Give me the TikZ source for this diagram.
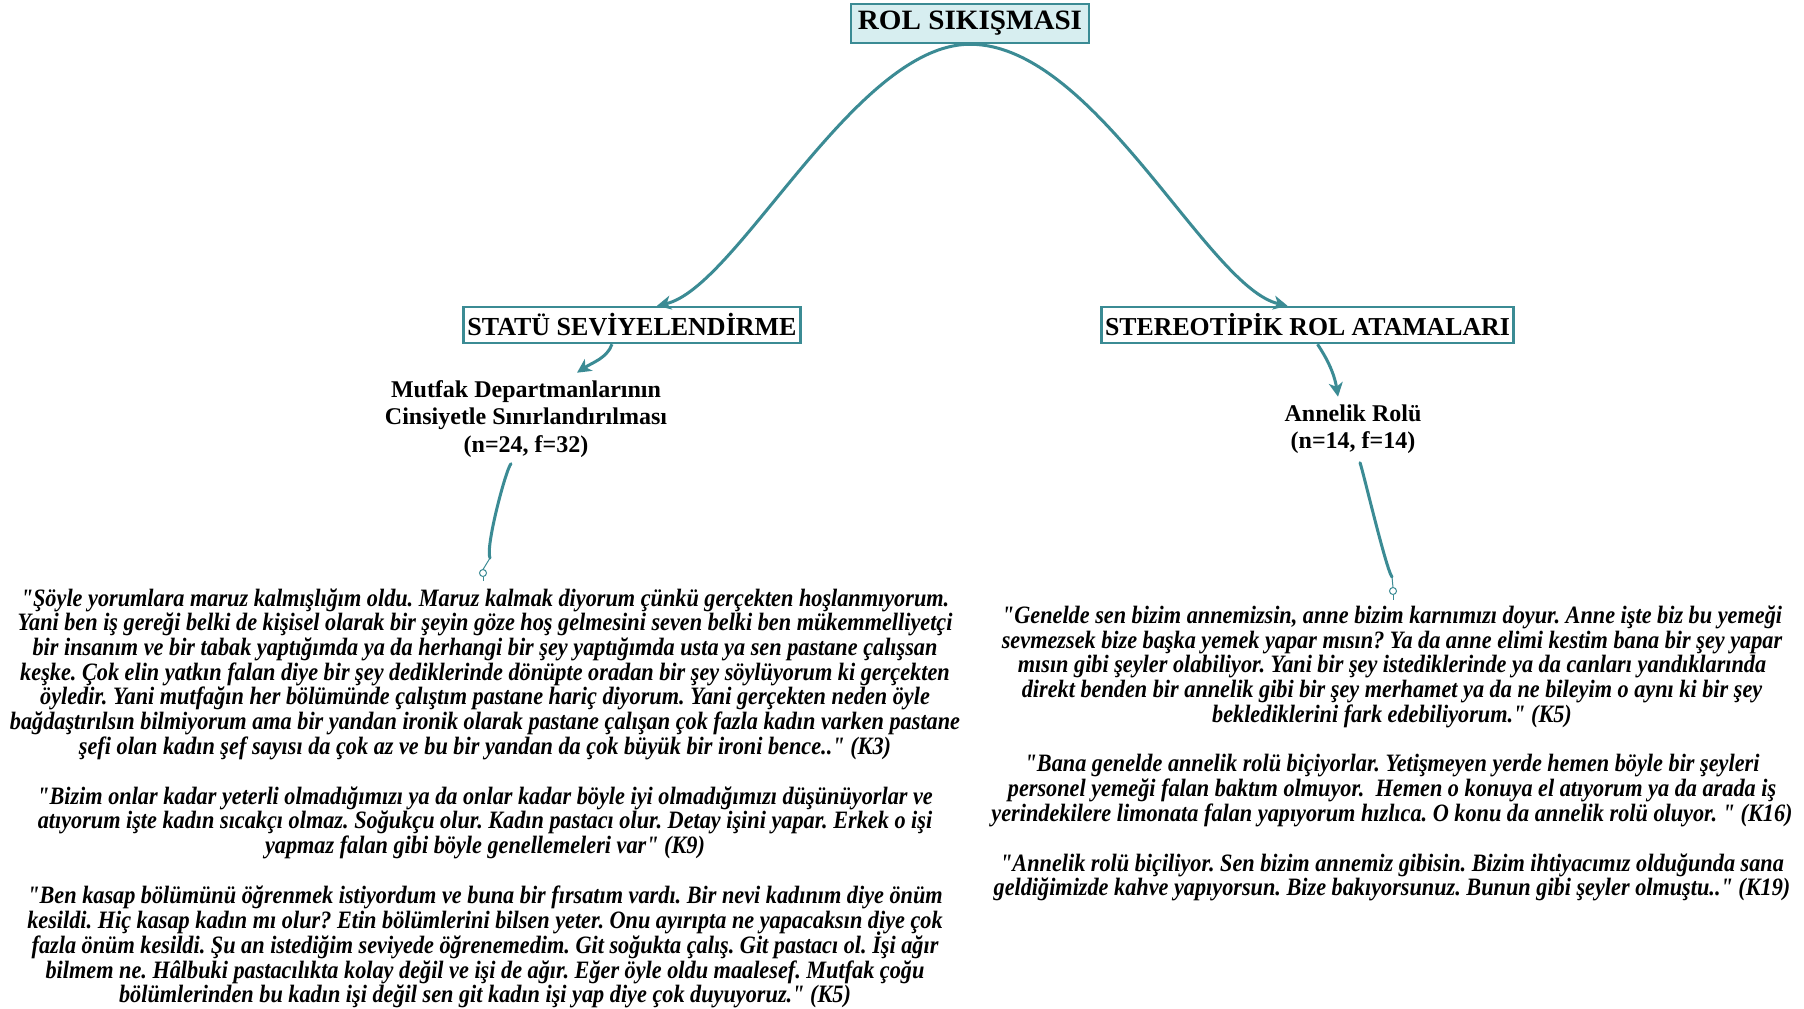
\documentclass[tikz,border=0pt]{standalone}
\usepackage{fontspec}
\setmainfont{Liberation Serif}[Ligatures=TeXOff]
\newfontfamily\titlefont{Liberation Serif}[FakeStretch=1.04,Ligatures=TeXOff]
\newfontfamily\quotefont{Liberation Serif}[FakeStretch=0.89,Ligatures=TeXOff]
\usetikzlibrary{arrows.meta,calc}
\definecolor{teal1}{RGB}{59,139,148}
\definecolor{lightfill}{RGB}{215,238,240}
\newcommand\tightlines{\lineskiplimit=-100pt\relax}
\frenchspacing
\tikzset{
 headbox/.style={draw=teal1, line width=2.5pt, fill=white, inner sep=0pt, minimum height=36pt,
   font=\fontsize{26}{30}\selectfont\bfseries},
 subtitle/.style={align=center, inner sep=0pt, anchor=north,
   font=\fontsize{24}{27.6}\selectfont\bfseries\tightlines},
 quote/.style={align=center, inner sep=0pt, anchor=north,
   font=\quotefont\fontsize{25}{24.75}\selectfont\bfseries\itshape\frenchspacing\tightlines},
 conn/.style={draw=teal1, line width=3pt, -{Stealth[length=14pt,width=14pt,inset=4pt]}},
 link/.style={draw=teal1, line width=3pt, line cap=round},
 pinline/.style={draw=teal1, line width=1pt},
 pinball/.style={draw=teal1, line width=1pt, fill=white},
}
\begin{document}
\begin{tikzpicture}[x=1pt,y=-1pt]
\fill[white] (0,0) rectangle (1804,1009);
\path[use as bounding box] (0,0) rectangle (1804,1009);

% heading boxes
\node[headbox, fill=lightfill, minimum width=238pt, minimum height=39pt,
      font=\titlefont\fontsize{28}{30}\selectfont\bfseries] (top) at (970,23.5) {ROL SIKIŞMASI};
\node[headbox, minimum width=337pt] (statu) at (632,325) {STATÜ SEVİYELENDİRME};
\node[headbox, minimum width=412pt, font=\fontsize{25.8}{30}\selectfont\bfseries] (stereo) at (1307.5,325) {STEREOTİPİK ROL ATAMALARI};

% sub-themes
\node[subtitle] (sub1) at (526,377.7) {\strut Mutfak Departmanlarının\\Cinsiyetle Sınırlandırılması\\(n=24, f=32)};
\node[subtitle] (sub2) at (1353,401.7) {\strut Annelik Rolü\\(n=14, f=14)};

% quotes left
\node[quote] (q1) at (485,588.2) {\strut "Şöyle yorumlara maruz kalmışlığım oldu. Maruz kalmak diyorum çünkü gerçekten hoşlanmıyorum.\\
Yani ben iş gereği belki de kişisel olarak bir şeyin göze hoş gelmesini seven belki ben mükemmelliyetçi\\
bir insanım ve bir tabak yaptığımda ya da herhangi bir şey yaptığımda usta ya sen pastane çalışsan\\
keşke. Çok elin yatkın falan diye bir şey dediklerinde dönüpte oradan bir şey söylüyorum ki gerçekten\\
öyledir. Yani mutfağın her bölümünde çalıştım pastane hariç diyorum. Yani gerçekten neden öyle\\
bağdaştırılsın bilmiyorum ama bir yandan ironik olarak pastane çalışan çok fazla kadın varken pastane\\
şefi olan kadın şef sayısı da çok az ve bu bir yandan da çok büyük bir ironi bence.." (K3)};
\node[quote] (q2) at (485,786.2) {\strut "Bizim onlar kadar yeterli olmadığımızı ya da onlar kadar böyle iyi olmadığımızı düşünüyorlar ve\\
atıyorum işte kadın sıcakçı olmaz. Soğukçu olur. Kadın pastacı olur. Detay işini yapar. Erkek o işi\\
yapmaz falan gibi böyle genellemeleri var" (K9)};
\node[quote] (q3) at (485,886) {\strut "Ben kasap bölümünü öğrenmek istiyordum ve buna bir fırsatım vardı. Bir nevi kadınım diye önüm\\
kesildi. Hiç kasap kadın mı olur? Etin bölümlerini bilsen yeter. Onu ayırıpta ne yapacaksın diye çok\\
fazla önüm kesildi. Şu an istediğim seviyede öğrenemedim. Git soğukta çalış. Git pastacı ol. İşi ağır\\
bilmem ne. Hâlbuki pastacılıkta kolay değil ve işi de ağır. Eğer öyle oldu maalesef. Mutfak çoğu\\
bölümlerinden bu kadın işi değil sen git kadın işi yap diye çok duyuyoruz." (K5)};

% quotes right
\node[quote] (r1) at (1392,605.7) {\strut "Genelde sen bizim annemizsin, anne bizim karnımızı doyur. Anne işte biz bu yemeği\\
sevmezsek bize başka yemek yapar mısın? Ya da anne elimi kestim bana bir şey yapar\\
mısın gibi şeyler olabiliyor. Yani bir şey istediklerinde ya da canları yandıklarında\\
direkt benden bir annelik gibi bir şey merhamet ya da ne bileyim o aynı ki bir şey\\
beklediklerini fark edebiliyorum." (K5)};
\node[quote] (r2) at (1392,754.2) {\strut "Bana genelde annelik rolü biçiyorlar. Yetişmeyen yerde hemen böyle bir şeyleri\\
personel yemeği falan baktım olmuyor.\ \ Hemen o konuya el atıyorum ya da arada iş\\
yerindekilere limonata falan yapıyorum hızlıca. O konu da annelik rolü oluyor. " (K16)};
\node[quote] (r3) at (1392,853.2) {\strut "Annelik rolü biçiliyor. Sen bizim annemiz gibisin. Bizim ihtiyacımız olduğunda sana\\
geldiğimizde kahve yapıyorsun. Bize bakıyorsunuz. Bunun gibi şeyler olmuştu.." (K19)};

% main connectors
\draw[conn] (top.south) .. controls +(-115,0) and +(80,-18) .. ([xshift=25pt]statu.north);
\draw[conn] (top.south) .. controls +(125,0) and +(-80,-18) .. ([xshift=-20pt]stereo.north);
\draw[conn] ([xshift=-20pt]statu.south) .. controls +(-5,14) and +(15,-10) .. ($(sub1.north)+(51,-5)$);
\draw[conn] ([xshift=10pt]stereo.south) .. controls +(8,12) and +(-4,-25) .. ($(sub2.north)+(-15,-5)$);

% pins to quotes
\coordinate (p1) at ($(q1.north)+(-2,-15.2)$);
\coordinate (p2) at ($(r1.north)+(1,-14.7)$);
\draw[link] ($(sub1.south)+(-15,6)$) .. controls +(-5,5) and +(-5,-10) .. ($(p1)+(7,-15)$);
\draw[pinline] ($(p1)+(7,-15)$) -- ($(p1)+(0,-3.5)$);
\draw[pinline] ($(p1)+(0,3.5)$) -- ($(p1)+(0,8)$);
\draw[pinball] (p1) circle[radius=3.5];
\draw[link] ($(sub2.south)+(7,8.6)$) .. controls +(3,8) and +(-6,-8) .. ($(p2)+(-1,-14)$);
\draw[pinline] ($(p2)+(-1,-14)$) -- ($(p2)+(0,-3.5)$);
\draw[pinline] ($(p2)+(0,3.5)$) -- ($(p2)+(0,9)$);
\draw[pinball] (p2) circle[radius=3.5];
\end{tikzpicture}
\end{document}
